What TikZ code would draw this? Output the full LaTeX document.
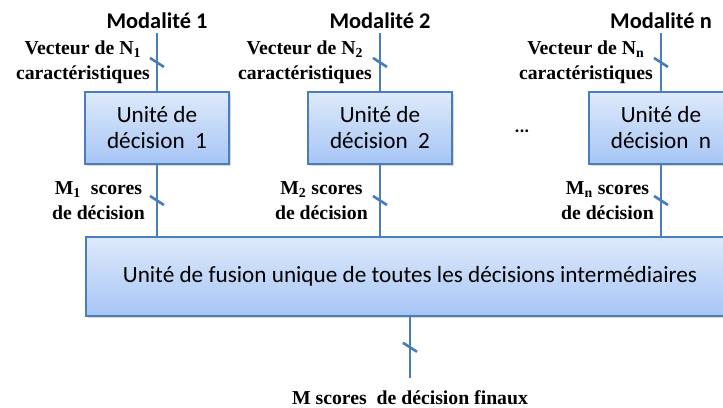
\documentclass[tikz,border=0pt]{standalone}
\usepackage{fontspec}
\setmainfont{Liberation Serif}
\newfontfamily\calibri{Carlito}
\usetikzlibrary{calc, positioning, shadows}

\definecolor{linkblue}{RGB}{74,126,187}
\definecolor{boxtop}{RGB}{222,234,251}
\definecolor{boxbot}{RGB}{166,197,245}

\begin{document}
\begin{tikzpicture}[x=0.75pt, y=-0.75pt,
                    decbox/.style={draw=linkblue, line width=0.8pt, rectangle, top color=boxtop, bottom color=boxbot,
                        drop shadow={shadow xshift=1.8pt, shadow yshift=-1.8pt, opacity=0.3},
                        font=\calibri\fontsize{17.4}{19.5}\selectfont, align=center, inner sep=0pt},
                    modal/.style={font=\calibri\bfseries\fontsize{16.8}{19}\selectfont, inner sep=3.75pt},
                    lab/.style={font=\bfseries\fontsize{14.8}{18.5}\selectfont, align=center, inner sep=0pt},
                    link/.style={draw=linkblue, line width=2pt}]
                    \clip (0,0) rectangle (723,407);

                    \node[modal, anchor=base] (1) at (157,28) {Modalité 1};
                    \node[modal, anchor=base] (2) at (380,28) {Modalité 2};
                    \node[modal, anchor=base] (3) at (661,28) {Modalité n};

                    \node[decbox, minimum width=108pt, minimum height=54pt] (11) at (157,128) {Unité de\\décision~ 1};
                    \node[decbox, minimum width=108pt, minimum height=54pt] (21) at (380,128) {Unité de\\décision~ 2};
                    \node[decbox, minimum width=108pt, minimum height=54pt] (31) at (661,128) {Unité de\\décision~ n};
                    \node[font=\calibri\bfseries\fontsize{14}{16}\selectfont] (dots) at (522,131) {...};

                    \node[decbox, minimum width=486pt, minimum height=59.25pt] (fus) at (410,276.5) {Unité de fusion unique de toutes les décisions intermédiaires};
                    \coordinate (end) at (410,378);

                    % entries
                    \draw[link] (1) -- coordinate[midway] (12) (11);
                    \draw[link] (2) -- coordinate[midway] (22) (21);
                    \draw[link] (3) -- coordinate[midway] (32) (31);
                    % scores
                    \draw[link] (11) -- coordinate[midway] (13) (11 |- fus.north);
                    \draw[link] (21) -- coordinate[midway] (23) (21 |- fus.north);
                    \draw[link] (31) -- coordinate[midway] (33) (31 |- fus.north);
                    \draw[link] (fus) -- coordinate[midway] (out) (end);

                    \foreach \t in {12,22,32,13,23,33,out}
                        \draw[link] (\t) +(-7,-4.5) -- +(7,4.5);

                    \node[lab] (v1) [left=5.25pt of 12] {Vecteur de N\textsubscript{1}\\caractéristiques};
                    \node[lab] (v2) [left=6pt of 22] {Vecteur de N\textsubscript{2}\\caractéristiques};
                    \node[lab] (v3) [left=6pt of 32] {Vecteur de N\textsubscript{n}\\caractéristiques};

                    \node[lab] (s1) [left=9pt of 13] {M\textsubscript{1}~ scores\\de décision};
                    \node[lab] (s2) [left=9pt of 23] {M\textsubscript{2} scores\\de décision};
                    \node[lab] (s3) [left=5.25pt of 33] {M\textsubscript{n} scores\\de décision};

                    \node[lab] (fin) [below=9pt of end] {M scores~ de décision finaux};
                \end{tikzpicture}
\end{document}
